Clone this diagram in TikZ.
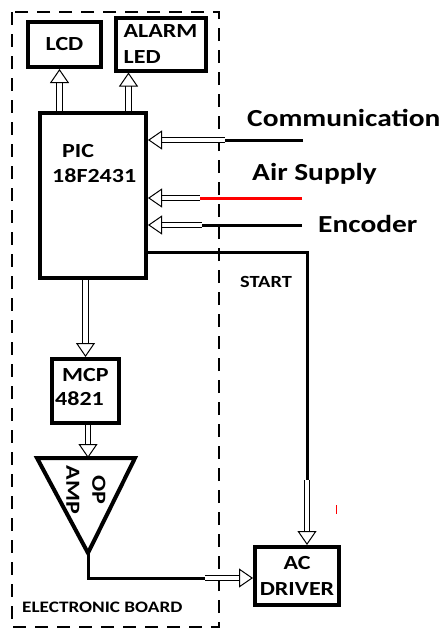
\documentclass[tikz,border=0pt]{standalone}
\usepackage{fontspec}
\setmainfont{Carlito}[FakeStretch=1.2]
\usetikzlibrary{arrows.meta,calc}

\begin{document}
\begin{tikzpicture}[x=1pt,y=-1pt,
  box/.style={draw, line width=4pt, inner sep=0pt},
  wire/.style={line width=3pt},
  hollow/.style={double, double distance=4.5pt, line width=1pt, -{Triangle[open, length=14pt, width=19pt]}},
  lbl/.style={font=\fontsize{20}{26}\bfseries},
  txt/.style={inner sep=0pt, anchor=base west},
  sig/.style={txt, font=\fontsize{24.5}{28}\bfseries}]
\useasboundingbox (0,0) rectangle (446,630);
% electronic board
\draw[line width=2pt, dash pattern=on 13pt off 9pt] (12,12) rectangle (219,627);
\node[txt, font=\fontsize{16}{20}\bfseries] (boardl) at (22,612) {ELECTRONIC BOARD};
% blocks
\node[box, lbl, minimum width=73pt, minimum height=45pt] (lcd) at (64.5,44.5) {LCD};
\node[box, lbl, align=left, minimum width=90pt, minimum height=53pt] (alarm) at (160.5,44) {ALARM\\LED};
\node[box, minimum width=106pt, minimum height=165pt] (pic) at (93,195.5) {};
\node[txt, lbl] (pictop) at (62,157) {PIC};
\node[txt, lbl] (picnum) at (52,182) {18F2431};
\node[box, minimum width=67pt, minimum height=64pt] (mcp) at (85.5,391) {};
\node[txt, lbl] (mcptop) at (62,381) {MCP};
\node[txt, lbl] (mcpnum) at (55,405) {4821};
\node[box, lbl, align=center, minimum width=84pt, minimum height=58pt] (acdrv) at (297,576) {AC\\DRIVER};
% op amp
\draw[line width=4pt] (37,458) -- (135,458) -- (88,553) coordinate (opout) -- cycle;
\coordinate (opin) at (88,458);
\node[lbl, rotate=-90, align=center] (optxt) at (86,490) {OP\\AMP};
% inputs
\coordinate (comm) at (303,140);
\coordinate (commj) at (225,140);
\coordinate (air) at (302,198);
\coordinate (airj) at (200,198);
\coordinate (enc) at (302,225);
\coordinate (encj) at (202,225);
\node[sig] (comml) at (247,126) {Communication};
\node[sig] (airl) at (252,180) {Air Supply};
\node[sig] (encl) at (318,232) {Encoder};
\draw[wire] (comm) -- (commj);
\draw[wire, red] (air) -- (airj);
\draw[wire] (enc) -- (encj);
\draw[hollow] (commj) -- (commj -| pic.east);
\draw[hollow] (airj) -- (airj -| pic.east);
\draw[hollow] (encj) -- (encj -| pic.east);
% outputs
\coordinate (lcdin) at ([xshift=-5pt]lcd.south);
\coordinate (alarmin) at ([xshift=15pt]alarm.south west);
\draw[hollow] (pic.north -| lcdin) -- (lcdin);
\draw[hollow] (pic.north -| alarmin) -- (alarmin);
\draw[hollow] (pic.south -| mcp.north) -- (mcp.north);
\draw[hollow] (mcp.south -| opin) -- (opin);
% start line
\coordinate (startk) at (307,252);
\coordinate (startc) at (307,480);
\node[txt, font=\fontsize{17}{22}\bfseries] (startl) at (240,287) {START};
\draw[wire] (startk -| pic.east) -- (startk) -- (startc);
\draw[hollow] (startc) -- (acdrv.north -| startc);
% op amp to driver
\coordinate (outk) at (88,578);
\coordinate (outj) at (205,578);
\draw[wire] (opout) -- (outk) -- (outj);
\draw[hollow] (outj) -- (outj -| acdrv.west);
\draw[red, line width=1pt] (336,505) -- (336,514);
\end{tikzpicture}
\end{document}
